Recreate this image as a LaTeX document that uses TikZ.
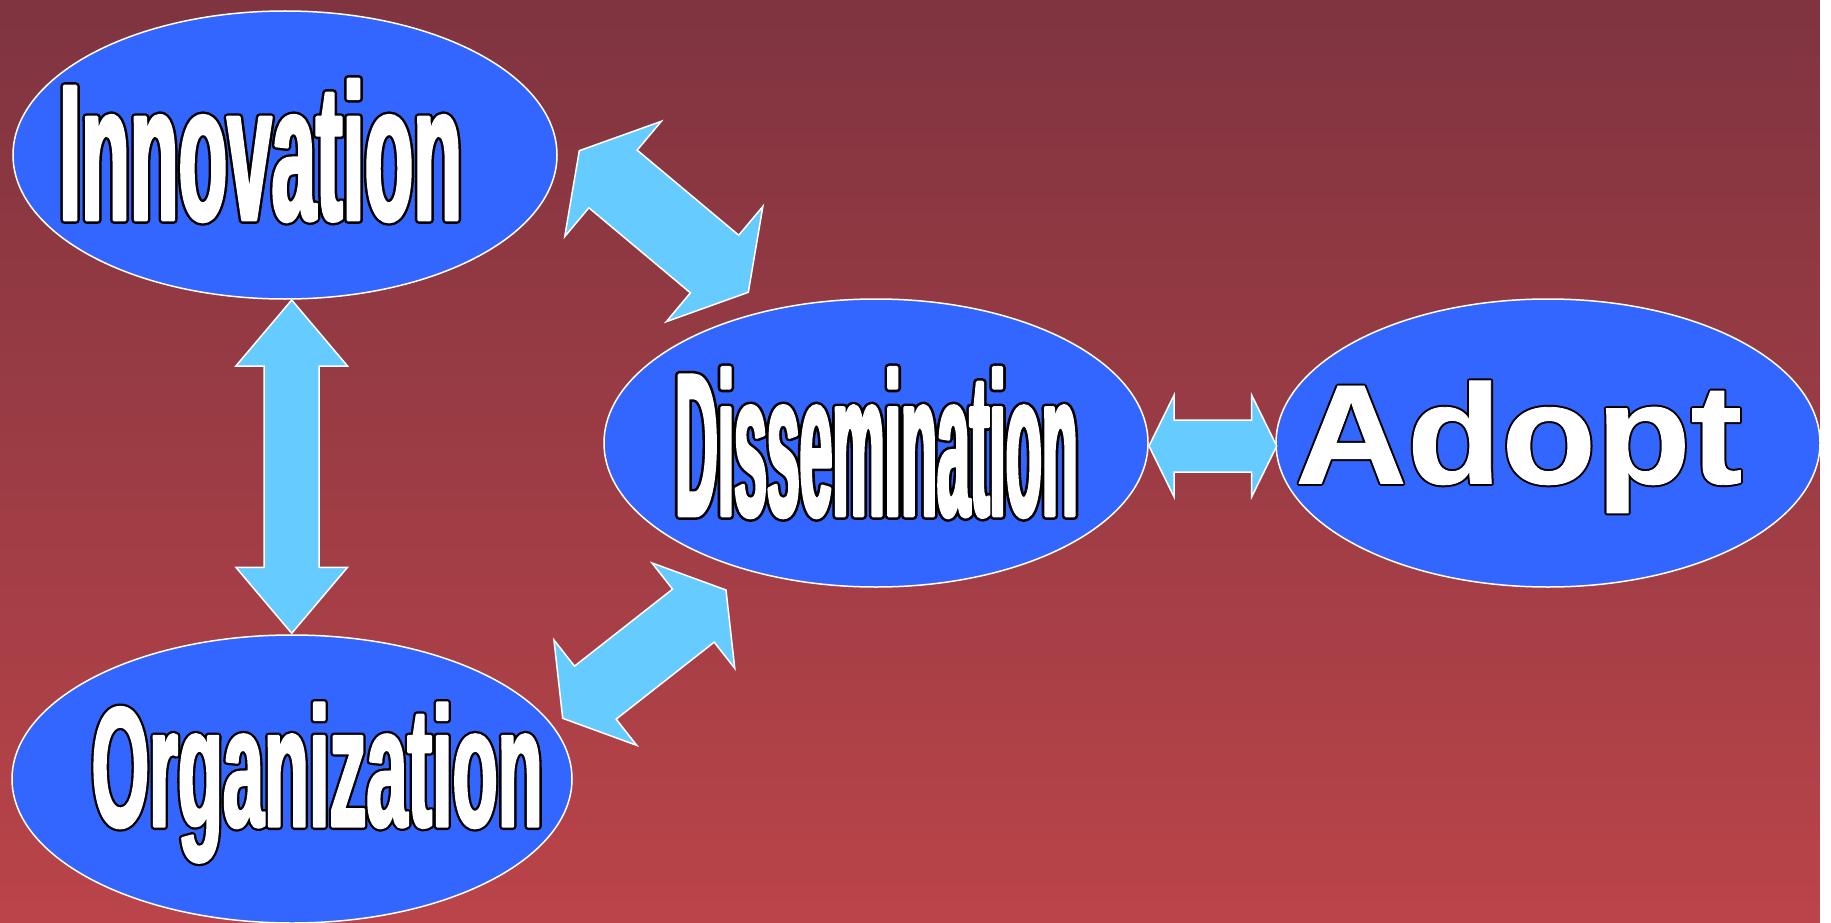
\documentclass[tikz,border=0pt]{standalone}
\usepackage{fontspec}
\usepackage{graphicx}
\usetikzlibrary{shapes.geometric,calc}
\newfontfamily\wordfamily{Liberation Sans}
\definecolor{bgtop}{HTML}{7F3440}
\definecolor{bgbot}{HTML}{BA4449}
\definecolor{ovalblue}{HTML}{3366FF}
\definecolor{arrowcyan}{HTML}{66CCFF}
% #1 stretch, #2 font size, #3 box width, #4 box height, #5 text,
% #6 fake bold of the black underlay, #7 fake bold of the white face
\newcommand\layerword[7]{%
  \resizebox{#3pt}{#4pt}{\special{pdf:literal direct 1 j}%
    \wordfamily\bfseries\fontsize{#2}{#2}\selectfont
    \rlap{\addfontfeatures{FakeStretch=#1,FakeBold=#6}\color{black}#5}%
    \addfontfeatures{FakeStretch=#1,FakeBold=#7}\color{white}#5}}
% #1 start, #2 end, #3 shaft half width, #4 head half width, #5 head length
\newcommand\dblarrow[5]{%
  \draw[arrowshape] (#1)
    -- ($(#1)!#5!(#2)!#4!90:(#2)$)
    -- ($(#1)!#5!(#2)!#3!90:(#2)$)
    -- ($(#2)!#5!(#1)!#3!-90:(#1)$)
    -- ($(#2)!#5!(#1)!#4!-90:(#1)$)
    -- (#2)
    -- ($(#2)!#5!(#1)!#4!90:(#1)$)
    -- ($(#2)!#5!(#1)!#3!90:(#1)$)
    -- ($(#1)!#5!(#2)!#3!-90:(#2)$)
    -- ($(#1)!#5!(#2)!#4!-90:(#2)$)
    -- cycle;}
\begin{document}
\begin{tikzpicture}[x=1pt,y=-1pt,
  oval/.style={ellipse, draw=white, line width=1.5pt, fill=ovalblue, inner sep=0pt},
  arrowshape/.style={draw=white, line width=1.5pt, fill=arrowcyan, line join=miter},
  word/.style={inner sep=0pt, anchor=base}]
\useasboundingbox (0,0) rectangle (1831,923);
\fill[top color=bgtop, bottom color=bgbot] (0,0) rectangle (1820,923);
\fill[white] (1820,0) rectangle (1831,923);

\node[oval, minimum width=544, minimum height=288] (inno) at (285,155) {};
\node[oval, minimum width=544, minimum height=288] (diss) at (876,443) {};
\node[oval, minimum width=544, minimum height=288] (adopt) at (1548,443) {};
\node[oval, minimum width=560, minimum height=288] (org) at (292,779) {};

\coordinate (vA) at (291.7,300);
\coordinate (vB) at (291.7,633.3);
\coordinate (hA) at (1149,446);
\coordinate (hB) at (1276.7,446);
\coordinate (uA) at (579.3,150.7);
\coordinate (uB) at (748.3,292.3);
\coordinate (lA) at (726,590);
\coordinate (lB) at (562.7,718.3);

\dblarrow{vA}{vB}{27.5pt}{55.8pt}{66pt}
\dblarrow{hA}{hB}{26pt}{50.8pt}{25pt}
\dblarrow{uA}{uB}{37.6pt}{75.2pt}{44pt}
\dblarrow{lA}{lB}{33.7pt}{67pt}{41.5pt}

\node[word] (innotext) at (260.5,220) {\layerword{0.40}{197}{403}{141}{Innovation}{4.0}{1.5}};
\node[word] (disstext) at (876.5,515.8) {\layerword{0.28}{207}{402.5}{148.3}{Dissemination}{4.0}{1.5}};
\node[word] (orgtext) at (317.2,826.4) {\layerword{0.43}{170}{451}{123.8}{Organization}{4.2}{1.5}};
\node[word] (adopttext) at (1518.7,483.5) {\layerword{1.07}{143.4}{447}{102.7}{Adopt}{3.4}{0.6}};
\end{tikzpicture}
\end{document}
